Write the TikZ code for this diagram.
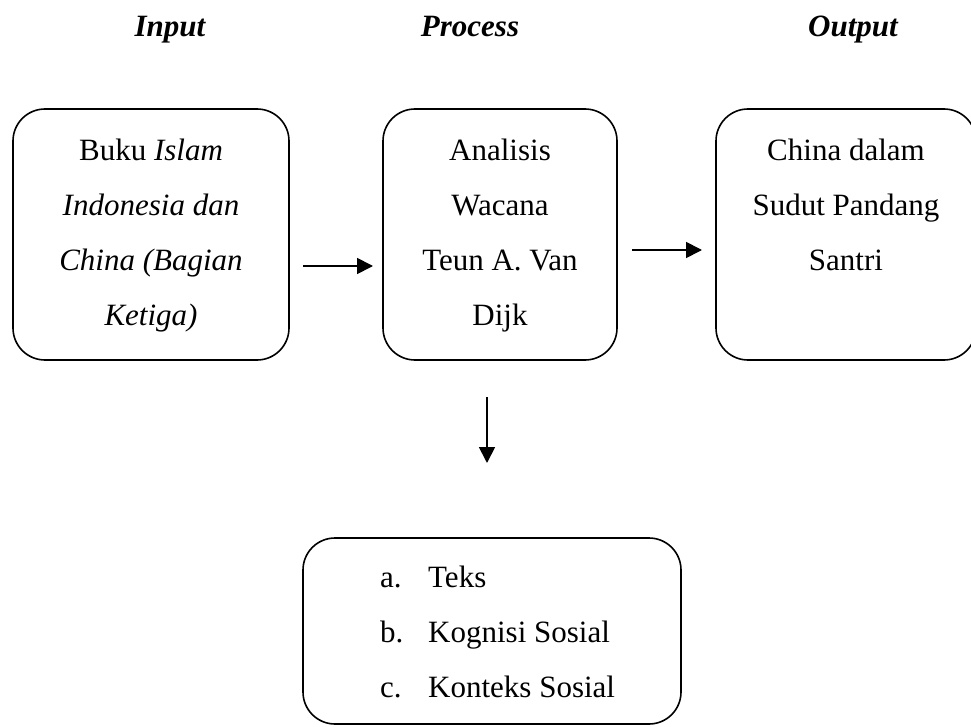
\documentclass[tikz,border=0pt]{standalone}
\usepackage{fontspec}
\setmainfont{Liberation Serif}
\usetikzlibrary{arrows.meta}
\begin{document}
\begin{tikzpicture}[x=1pt,y=-1pt,
  box/.style={draw, line width=1.6pt, rounded corners=32pt, inner sep=0pt},
  txt/.style={align=center, anchor=north, inner sep=0pt, font=\fontsize{31}{55}\selectfont},
  ttl/.style={anchor=base, inner sep=0pt, font=\fontsize{31}{37}\selectfont\bfseries\itshape},
  arr/.style={line width=1.8pt, -{Triangle[length=16pt,width=16pt]}}]
\useasboundingbox (0,0) rectangle (971,727);
% titles
\node[ttl] (tin) at (170,37) {Input};
\node[ttl] (tpr) at (470,37) {Process};
\node[ttl] (tout) at (853,37) {Output};
% boxes
\node[box, minimum width=276pt, minimum height=251pt] (b1) at (151,234.5) {};
\node[box, minimum width=234pt, minimum height=251pt] (b2) at (500,234.5) {};
\node[box, minimum width=260pt, minimum height=251pt] (b3) at (846,234.5) {};
\node[box, minimum width=378pt, minimum height=186pt] (b4) at (492,631) {};
% texts
\node[txt] (t1) at (151,136) {\rule{0pt}{24pt}Buku \textit{Islam}\\\textit{Indonesia dan}\\\textit{China (Bagian}\\\textit{Ketiga)}};
\node[txt] (t2) at (500,136) {\rule{0pt}{24pt}Analisis\\Wacana\\Teun A. Van\\Dijk};
\node[txt] (t3) at (846,136) {\rule{0pt}{24pt}China dalam\\Sudut Pandang\\Santri};
\node[txt, align=left, anchor=north west] (t4) at (380,563) {\rule{0pt}{24pt}\makebox[48pt][l]{a.}Teks\\\makebox[48pt][l]{b.}Kognisi Sosial\\\makebox[48pt][l]{c.}Konteks Sosial};
% arrows
\coordinate (a1s) at (303,266);
\coordinate (a1e) at (373,266);
\coordinate (a2s) at (632,250);
\coordinate (a2e) at (702,250);
\coordinate (a3s) at (487,397);
\coordinate (a3e) at (487,463);
\draw[arr] (a1s) -- (a1e);
\draw[arr] (a2s) -- (a2e);
\draw[arr] (a3s) -- (a3e);
\end{tikzpicture}
\end{document}
